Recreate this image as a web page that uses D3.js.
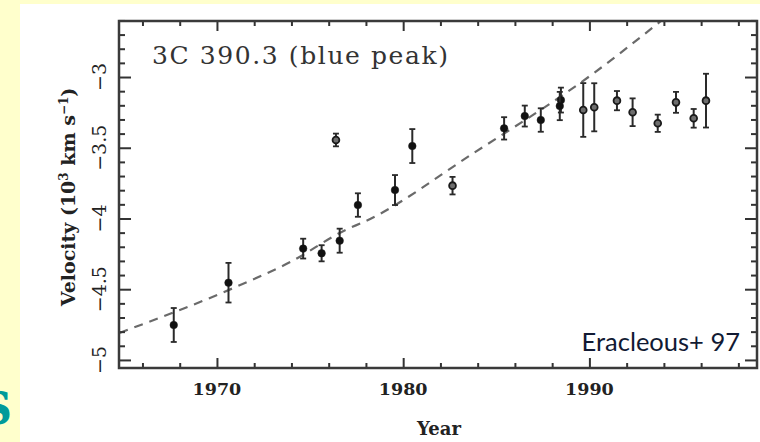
<!DOCTYPE html>
<html>
<head>
<meta charset="utf-8">
<script src="https://cdn.jsdelivr.net/npm/d3@7"></script>
<style>
  html, body { margin: 0; padding: 0; background: #ffffcc; }
  svg { display: block; }
</style>
</head>
<body>
<svg id="chart"></svg>
<script>
// observations: year, velocity (10^3 km/s), error, open marker?
var years  = [1967.68, 1970.62, 1974.63, 1975.62, 1976.59, 1976.39, 1977.57, 1979.56, 1980.49, 1982.65,
              1985.42, 1986.53, 1987.39, 1988.47, 1988.41, 1989.67, 1990.26, 1991.48, 1992.32, 1993.67,
              1994.65, 1995.60, 1996.26]
var velocity = [-4.753, -4.454, -4.213, -4.246, -4.157, -3.445, -3.905, -3.799, -3.488, -3.768,
                -3.363, -3.276, -3.304, -3.163, -3.205, -3.233, -3.214, -3.167, -3.249, -3.327,
                -3.179, -3.292, -3.167]
var errors = [0.12, 0.14, 0.07, 0.057, 0.085, 0.045, 0.083, 0.106, 0.12, 0.062,
              0.079, 0.074, 0.083, 0.088, 0.10, 0.19, 0.17, 0.068, 0.098, 0.061,
              0.074, 0.066, 0.19]
var openMarker = [0, 0, 0, 0, 0, 1, 0, 0, 0, 1,
                  0, 0, 0, 0, 0, 1, 1, 1, 1, 1,
                  1, 1, 1]

// model curve (dashed)
var modelYears = [1964.76, 1970.89, 1973.95, 1977.00, 1977.88, 1983.79, 1990.24, 1993.84]
var modelVel   = [-4.809, -4.491, -4.307, -4.075, -4.025, -3.537, -2.972, -2.604]

var xMajor = [1970, 1980, 1990]
var xMinor = [1966, 1968, 1972, 1974, 1976, 1978, 1982, 1984, 1986, 1988, 1992, 1994, 1996, 1998]
var yMajor = [-3, -3.5, -4, -4.5, -5]
var yLabels = ["\u22123", "\u22123.5", "\u22124", "\u22124.5", "\u22125"]
var yMinor = d3.range(-50, -25).map(d => d / 10).filter(d => Math.abs(d * 2 - Math.round(d * 2)) > 0.01)

var dimensions = {
    width: 760,
    height: 442,
    margin: { top: 21, bottom: 74, right: 3, left: 119 }
}

var svg = d3.select("#chart")
            .attr("width", dimensions.width)
            .attr("height", dimensions.height)

// slide background + white panel
svg.append("rect").attr("x", 0).attr("y", 0).attr("width", 760).attr("height", 442).attr("fill", "#ffffcc")
svg.append("rect").attr("x", 20).attr("y", 4).attr("width", 740).attr("height", 438).attr("fill", "#ffffff")
svg.append("text")
   .attr("x", 12).attr("y", 424)
   .attr("text-anchor", "end")
   .style("font-family", "DejaVu Serif").style("font-weight", "bold").style("font-size", "44px")
   .style("fill", "#009a9a")
   .text("S")

var dataset = years.map((d, i) => ({ year: d, v: velocity[i], err: errors[i], open: openMarker[i] }))
var model = modelYears.map((d, i) => ({ year: d, v: modelVel[i] }))

var x0 = dimensions.margin.left, x1 = dimensions.width - dimensions.margin.right
var y0 = dimensions.margin.top, y1 = dimensions.height - dimensions.margin.bottom

var xScale = d3.scaleLinear().domain([1964.74, 1999.0]).range([x0, x1])
var yScale = d3.scaleLinear().domain([-5.057, -2.604]).range([y1, y0])

var ink = "#2a2a2a"

// dashed model
var line = d3.line()
             .x(d => xScale(d.year))
             .y(d => yScale(d.v))
             .curve(d3.curveMonotoneX)

svg.append("defs").append("clipPath").attr("id", "clip")
   .append("rect").attr("x", x0).attr("y", y0).attr("width", x1 - x0).attr("height", y1 - y0)

svg.append("path")
   .datum(model)
   .attr("d", line)
   .attr("clip-path", "url(#clip)")
   .style("fill", "none")
   .style("stroke", "#6a6a6a")
   .style("stroke-width", 2.2)
   .style("stroke-dasharray", "9,7")

// error bars
var bars = svg.append("g").selectAll("g").data(dataset).join("g")
bars.append("line")
    .attr("x1", d => xScale(d.year)).attr("x2", d => xScale(d.year))
    .attr("y1", d => yScale(d.v + d.err)).attr("y2", d => yScale(d.v - d.err))
    .style("stroke", ink).style("stroke-width", 2)
bars.selectAll(".cap").data(d => [[d.year, d.v + d.err], [d.year, d.v - d.err]]).join("line")
    .attr("x1", d => xScale(d[0]) - 3).attr("x2", d => xScale(d[0]) + 3)
    .attr("y1", d => yScale(d[1])).attr("y2", d => yScale(d[1]))
    .style("stroke", ink).style("stroke-width", 1.8)
bars.append("circle")
    .attr("cx", d => xScale(d.year)).attr("cy", d => yScale(d.v))
    .attr("r", d => d.open ? 3.4 : 3.8)
    .style("fill", d => d.open ? "#6e6e6e" : "#111")
    .style("stroke", "#1a1a1a").style("stroke-width", d => d.open ? 1.8 : 0.5)

// axes, ticks pointing inward on all four sides
function tickAxis(gen, values, size, transform) {
    svg.append("g")
       .attr("transform", transform)
       .call(gen.tickValues(values).tickSize(size).tickFormat(""))
       .call(g => g.select(".domain").remove())
       .selectAll("line").style("stroke", "#333").style("stroke-width", 2)
}
tickAxis(d3.axisBottom(xScale), xMajor, -10, `translate(0,${y1})`)
tickAxis(d3.axisBottom(xScale), xMinor, -5, `translate(0,${y1})`)
tickAxis(d3.axisTop(xScale), xMajor, -10, `translate(0,${y0})`)
tickAxis(d3.axisTop(xScale), xMinor, -5, `translate(0,${y0})`)
tickAxis(d3.axisLeft(yScale), yMajor, -12, `translate(${x0},0)`)
tickAxis(d3.axisLeft(yScale), yMinor, -6, `translate(${x0},0)`)
tickAxis(d3.axisRight(yScale), yMajor, -12, `translate(${x1},0)`)
tickAxis(d3.axisRight(yScale), yMinor, -6, `translate(${x1},0)`)

svg.append("rect")
   .attr("x", x0).attr("y", y0).attr("width", x1 - x0).attr("height", y1 - y0)
   .style("fill", "none").style("stroke", "#3a3a3a").style("stroke-width", 2.5)

var serif = "DejaVu Serif"

// tick labels
svg.append("g").selectAll("text").data(xMajor).join("text")
   .attr("x", d => xScale(d)).attr("y", 395)
   .attr("text-anchor", "middle")
   .style("font-family", serif).style("font-weight", "bold").style("font-size", "17.5px").style("fill", "#222")
   .text(d => d)

svg.append("g").selectAll("text").data(yMajor).join("text")
   .attr("transform", d => `translate(106,${yScale(d)}) rotate(-90)`)
   .attr("text-anchor", "middle")
   .style("font-family", serif).style("font-size", "19px").style("fill", "#222")
   .text((d, i) => yLabels[i])

// axis titles
svg.append("text")
   .attr("x", 439).attr("y", 435)
   .attr("text-anchor", "middle")
   .style("font-family", serif).style("font-weight", "bold").style("font-size", "18px").style("fill", "#222")
   .text("Year")

var ylab = svg.append("text")
   .attr("transform", "translate(75,197) rotate(-90)")
   .attr("text-anchor", "middle")
   .style("font-family", serif).style("font-weight", "bold").style("font-size", "19px").style("fill", "#222")
ylab.append("tspan").text("Velocity (10")
ylab.append("tspan").attr("dy", -7).style("font-size", "12px").text("3")
ylab.append("tspan").attr("dy", 7).text(" km s")
ylab.append("tspan").attr("dy", -7).style("font-size", "12px").text("\u22121")
ylab.append("tspan").attr("dy", 7).text(")")

// panel title and credit
svg.append("text")
   .attr("x", 152).attr("y", 64)
   .attr("textLength", 296).attr("lengthAdjust", "spacing")
   .style("font-family", serif).style("font-size", "25px").style("fill", "#333")
   .text("3C 390.3 (blue peak)")

svg.append("text")
   .attr("x", 740).attr("y", 351)
   .attr("text-anchor", "end")
   .style("font-family", "Lato").style("font-size", "25.5px").style("fill", "#111a33")
   .text("Eracleous+ 97")
</script>
</body>
</html>
